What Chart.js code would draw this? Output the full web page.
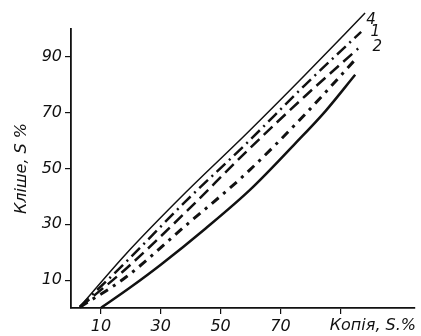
<!DOCTYPE html>
<html><head><meta charset="utf-8">
<script src="https://cdn.jsdelivr.net/npm/chart.js@4"></script>
<style>html,body{margin:0;padding:0;background:#fff}#wrap{width:421px;height:336px}</style>
</head><body><div id="wrap"><canvas id="c"></canvas></div>
<script>
const xTicks = [10, 30, 50, 70, 90];
const xTickLabels = ['10', '30', '50', '70', ''];
const yTicks = [10, 30, 50, 70, 90];
const yTickLabels = ['10', '30', '50', '70', '90'];
const xTitle = 'Копія, S.%';
const yTitle = 'Кліше, S %';

// curve 4 (upper solid)
const curve4X = [3, 18.3, 38.3, 58.3, 78.3, 98.3];
const curve4Y = [0.5, 19.3, 41.4, 62.1, 83.6, 105.7];
// curve 1 (dash-dot)
const curve1X = [3, 18.3, 38.3, 58.3, 78.3, 97];
const curve1Y = [0.5, 16.4, 38.2, 58.6, 80, 99];
// dashed curve
const curveDX = [3, 18.3, 38.3, 58.3, 78.3, 96];
const curveDY = [0.3, 14, 34.3, 55.7, 76, 93];
// curve 2 (dash-dot, large dots)
const curve2X = [3, 18.3, 38.3, 58.3, 78.3, 95];
const curve2Y = [0.3, 11, 29.5, 48, 69.5, 89];
// lower solid curve
const curve3X = [10, 20, 30, 45, 60, 75, 85, 95];
const curve3Y = [0, 7.5, 15.5, 28.5, 42.5, 59, 70.5, 83.6];

const pts = (xs, ys) => xs.map((v, i) => ({x: v, y: ys[i]}));
const INK = '#111';
const FONT = '"DejaVu Sans", sans-serif';

function ds(xs, ys, width, dash) {
  return {data: pts(xs, ys), borderColor: INK, borderWidth: width, borderDash: dash,
    pointRadius: 0, cubicInterpolationMode: 'monotone', fill: false, clip: false};
}

const annot = {
  id: 'annot',
  afterDatasetsDraw(chart) {
    const {ctx, scales: {x, y}, chartArea} = chart;
    ctx.save();
    ctx.fillStyle = INK;
    ctx.font = 'italic 15px ' + FONT;
    ctx.textAlign = 'center';
    ctx.textBaseline = 'middle';
    const labs = [[curve4X, curve4Y, '4', 6, 7], [curve1X, curve1Y, '1', 14, 0], [curve2X, curve2Y, '2', 22, -13]];
    labs.forEach(([xs, ys, t, dx, dy]) => {
      const n = xs.length - 1;
      ctx.fillText(t, x.getPixelForValue(xs[n]) + dx, y.getPixelForValue(ys[n]) + dy);
    });
    ctx.font = 'italic 16px ' + FONT;
    ctx.textAlign = 'right';
    ctx.fillText(xTitle, chartArea.right + 1, 326);
    ctx.restore();
  }
};

new Chart(document.getElementById('c'), {
  type: 'line',
  data: {datasets: [
    ds(curve4X, curve4Y, 1.5, []),
    ds(curve1X, curve1Y, 2.5, [12, 5, 2, 5]),
    ds(curveDX, curveDY, 2.5, [12, 6]),
    ds(curve2X, curve2Y, 3, [9, 6, 3, 6]),
    ds(curve3X, curve3Y, 2.5, [])
  ]},
  options: {
    responsive: true, maintainAspectRatio: false, animation: false,
    layout: {padding: {top: 29, right: 6, bottom: 0, left: 0}},
    plugins: {legend: {display: false}, tooltip: {enabled: false}},
    scales: {
      x: {
        type: 'linear', min: 0, max: 115,
        afterBuildTicks: s => { s.ticks = xTicks.map(v => ({value: v})); },
        afterFit: s => { s.height = 28; },
        ticks: {autoSkip: false, maxRotation: 0, padding: 3, color: INK,
          font: {family: FONT, size: 16, style: 'italic'},
          callback: (v, i) => xTickLabels[i]},
        grid: {display: true, drawOnChartArea: false, drawTicks: true, tickLength: 6, color: INK, lineWidth: 1.2},
        border: {display: true, color: INK, width: 1.8}
      },
      y: {
        type: 'linear', min: 0, max: 100,
        afterBuildTicks: s => { s.ticks = yTicks.map(v => ({value: v})); },
        afterFit: s => { s.width = 71; },
        ticks: {autoSkip: false, padding: 3, color: INK,
          font: {family: FONT, size: 16, style: 'italic'},
          callback: (v, i) => yTickLabels[i]},
        grid: {display: true, drawOnChartArea: false, drawTicks: true, tickLength: 6, color: INK, lineWidth: 1.2},
        border: {display: true, color: INK, width: 1.8},
        title: {display: true, text: yTitle, color: INK, padding: {top: 12, bottom: 0},
          font: {family: FONT, size: 16, style: 'italic'}}
      }
    }
  },
  plugins: [annot]
});
</script>
</body></html>
